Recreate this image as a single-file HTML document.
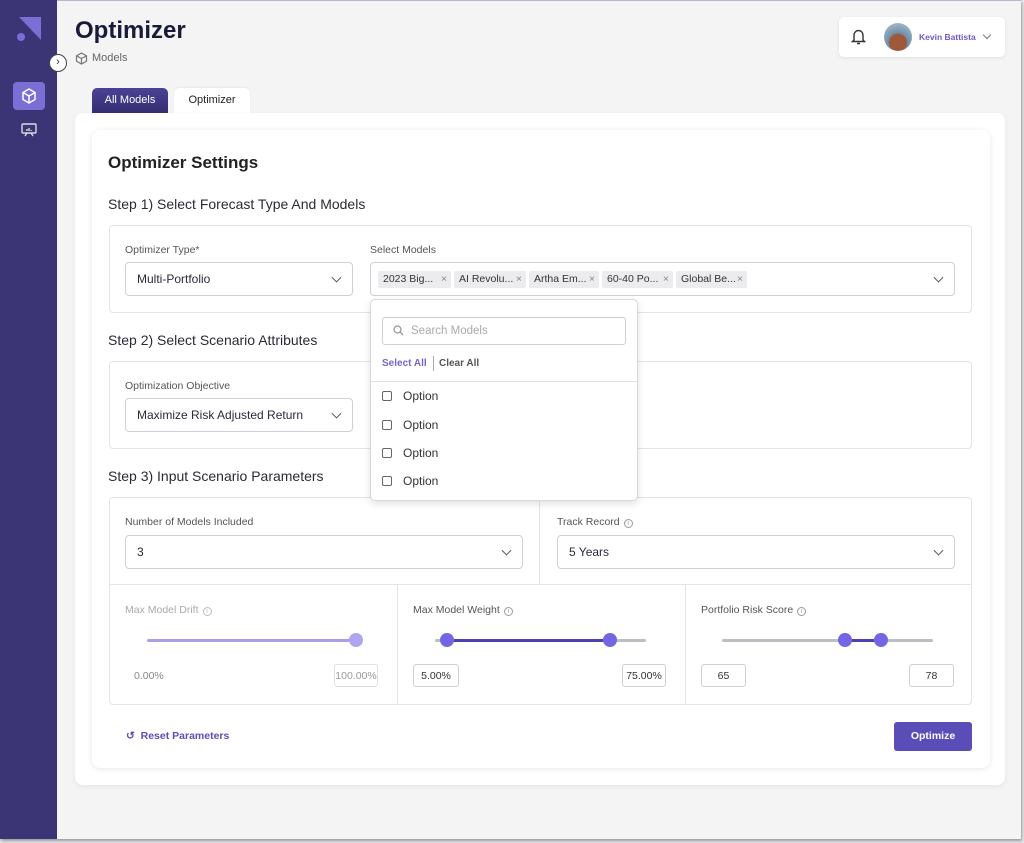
<!DOCTYPE html>
<html><head><meta charset="utf-8"><style>
*{box-sizing:border-box;margin:0;padding:0}
body{width:1024px;height:843px;background:#e9e9ec;font-family:"Liberation Sans",sans-serif;position:relative;overflow:hidden;color:#2a2a3a}
.a{position:absolute}
.frame{left:0;top:0;width:1021px;height:839px;background:#f4f4f5;border-top:1px solid #b9b4d6;box-shadow:1px 2px 3px rgba(0,0,0,.35)}
.side{left:0;top:0;width:57px;height:839px;background:#3b3576}
.card{background:#fff;border-radius:8px}
.box{border:1px solid #e4e4e8;border-radius:4px;background:#fff}
.sel{border:1px solid #cfcfd6;border-radius:4px;background:#fff;font-size:12px;color:#2a2a3a;padding-left:11px;display:flex;align-items:center}
.sel .chev{position:absolute;right:12px;top:50%;width:7px;height:7px;border-right:1.5px solid #555;border-bottom:1.5px solid #555;transform:translateY(-70%) rotate(45deg)}
.lbl{font-size:10.5px;color:#555}
.h{font-size:14px;color:#2a2a3a}
.chip{top:271px;height:17px;background:#ececef;border-radius:2px;font-size:10.5px;color:#333;padding:2px 5px;white-space:nowrap;overflow:hidden}
.chip b{font-weight:normal;color:#888;position:absolute;right:4px}
.opt{left:382px;font-size:12px;color:#333}
.opt i{display:inline-block;width:10px;height:10px;border:1px solid #666;border-radius:2px;margin-right:11px;vertical-align:-1px}
.track{height:3px;background:#bdbdc3;border-radius:2px}
.knob{width:14px;height:14px;border-radius:50%;background:#7466e3}
.inp{border:1px solid #cfcfd6;border-radius:3px;height:23px;font-size:10.5px;display:flex;align-items:center;justify-content:center;color:#333;background:#fff}
.info{display:inline-block;width:9px;height:9px;border:1px solid #999;border-radius:50%;font-size:7px;text-align:center;line-height:8px;margin-left:4px;color:#999;vertical-align:0}
</style></head><body>
<div class="a frame"></div>
<div class="a side"></div>
<svg class="a" style="left:16px;top:16px" width="26" height="26"><polygon points="3,1 25,1 25,24" fill="#7b6fd6"/><circle cx="5" cy="21" r="4" fill="#7b6fd6"/></svg>
<div class="a" style="left:13px;top:82px;width:32px;height:28px;background:#7b6fd6;border-radius:4px"></div>
<svg class="a" style="left:20px;top:87px" width="18" height="18" fill="none" stroke="#fff" stroke-width="1.5"><path d="M9 2 L15 5.5 V12.5 L9 16 L3 12.5 V5.5 Z M3 5.5 L9 9 L15 5.5 M9 9 V16"/></svg>
<svg class="a" style="left:20px;top:121px" width="18" height="18" fill="none" stroke="#ddd" stroke-width="1.4"><rect x="2" y="3" width="14" height="9" rx="1"/><path d="M5 15 L7 12 M13 15 L11 12 M7 10 V8 M9 10 V7 M11 10 V9"/></svg>
<div class="a" style="left:49px;top:54px;width:18px;height:18px;border-radius:50%;background:#fff;border:1.5px solid #444;font-size:11px;text-align:center;line-height:14px;color:#333">›</div>

<div class="a" style="left:75px;top:17px;font-size:24px;font-weight:bold;color:#1a1a3a">Optimizer</div>
<svg class="a" style="left:75px;top:52px" width="13" height="13" fill="none" stroke="#777" stroke-width="1.2"><path d="M6.5 1 L11.5 3.8 V9.2 L6.5 12 L1.5 9.2 V3.8 Z M1.5 3.8 L6.5 6.5 L11.5 3.8 M6.5 6.5 V12"/></svg>
<div class="a" style="left:92px;top:52px;font-size:11px;color:#666">Models</div>

<div class="a card" style="left:839px;top:17px;width:166px;height:40px;border-radius:5px;box-shadow:0 1px 4px rgba(0,0,0,.08)"></div>
<svg class="a" style="left:851px;top:28px" width="15" height="17" fill="none" stroke="#333" stroke-width="1.4"><path d="M3 12 V7 a4.5 4.5 0 0 1 9 0 V12 L13.5 13.5 H1.5 Z M6 15.5 H9"/></svg>
<div class="a" style="left:884px;top:23px;width:28px;height:28px;border-radius:50%;background:radial-gradient(circle at 50% 70%,#a0583a 0 35%,#6f8fa8 40%,#b7c8d6 100%)"></div>
<div class="a" style="left:919px;top:32px;font-size:8.5px;font-weight:bold;color:#6a5cc5">Kevin Battista</div>
<div class="a" style="left:984px;top:32px;width:6px;height:6px;border-right:1.3px solid #777;border-bottom:1.3px solid #777;transform:rotate(45deg)"></div>

<div class="a" style="left:92px;top:88px;width:76px;height:26px;background:linear-gradient(#4a4294,#342d70);border-radius:5px 5px 0 0;color:#fff;font-size:11px;text-align:center;line-height:25px">All Models</div>
<div class="a" style="left:174px;top:88px;width:76px;height:26px;background:#fff;border-radius:5px 5px 0 0;color:#222;font-size:11px;text-align:center;line-height:25px;box-shadow:0 -1px 2px rgba(0,0,0,.06)">Optimizer</div>

<div class="a card" style="left:75px;top:113px;width:930px;height:672px;box-shadow:0 2px 6px rgba(0,0,0,.06)"></div>
<div class="a card" style="left:92px;top:130px;width:898px;height:638px;box-shadow:0 1px 6px rgba(0,0,0,.1)"></div>

<div class="a" style="left:108px;top:153px;font-size:17px;font-weight:bold;color:#222">Optimizer Settings</div>
<div class="a h" style="left:108px;top:196px">Step 1) Select Forecast Type And Models</div>
<div class="a box" style="left:109px;top:225px;width:863px;height:88px"></div>
<div class="a lbl" style="left:125px;top:244px">Optimizer Type*</div>
<div class="a sel" style="left:125px;top:262px;width:228px;height:34px">Multi-Portfolio<span class="chev"></span></div>
<div class="a lbl" style="left:370px;top:244px">Select Models</div>
<div class="a sel" style="left:370px;top:262px;width:585px;height:34px"><span class="chev"></span></div>
<div class="a chip" style="left:378px;width:73px">2023 Big...<b>×</b></div>
<div class="a chip" style="left:454px;width:72px">AI Revolu...<b>×</b></div>
<div class="a chip" style="left:529px;width:70px">Artha Em...<b>×</b></div>
<div class="a chip" style="left:602px;width:71px">60-40 Po...<b>×</b></div>
<div class="a chip" style="left:676px;width:71px">Global Be...<b>×</b></div>

<div class="a h" style="left:108px;top:332px">Step 2) Select Scenario Attributes</div>
<div class="a box" style="left:109px;top:361px;width:863px;height:88px"></div>
<div class="a lbl" style="left:125px;top:380px">Optimization Objective</div>
<div class="a sel" style="left:125px;top:398px;width:228px;height:34px">Maximize Risk Adjusted Return<span class="chev"></span></div>

<div class="a h" style="left:108px;top:468px">Step 3) Input Scenario Parameters</div>
<div class="a box" style="left:109px;top:497px;width:863px;height:208px"></div>
<div class="a" style="left:539px;top:498px;width:1px;height:87px;background:#e4e4e8"></div>
<div class="a" style="left:110px;top:584px;width:861px;height:1px;background:#e4e4e8"></div>
<div class="a" style="left:397px;top:585px;width:1px;height:119px;background:#e4e4e8"></div>
<div class="a" style="left:685px;top:585px;width:1px;height:119px;background:#e4e4e8"></div>
<div class="a lbl" style="left:125px;top:516px">Number of Models Included</div>
<div class="a sel" style="left:125px;top:535px;width:398px;height:34px">3<span class="chev"></span></div>
<div class="a lbl" style="left:557px;top:516px">Track Record<span class="info">i</span></div>
<div class="a sel" style="left:557px;top:535px;width:398px;height:34px">5 Years<span class="chev"></span></div>

<div class="a lbl" style="left:125px;top:604px;color:#aaa">Max Model Drift<span class="info" style="border-color:#bbb;color:#bbb">i</span></div>
<div class="a track" style="left:147px;top:639px;width:210px;background:#a99fe6"></div>
<div class="a knob" style="left:349px;top:633px;background:#aea5ef"></div>
<div class="a" style="left:134px;top:670px;font-size:10.5px;color:#888">0.00%</div>
<div class="a inp" style="left:334px;top:664px;width:44px;color:#999;border-color:#e2e2e6">100.00%</div>

<div class="a lbl" style="left:413px;top:604px">Max Model Weight<span class="info">i</span></div>
<div class="a track" style="left:435px;top:639px;width:211px"></div>
<div class="a track" style="left:447px;top:639px;width:163px;background:#4d40b0"></div>
<div class="a knob" style="left:440px;top:633px"></div>
<div class="a knob" style="left:603px;top:633px"></div>
<div class="a inp" style="left:413px;top:664px;width:46px">5.00%</div>
<div class="a inp" style="left:622px;top:664px;width:44px">75.00%</div>

<div class="a lbl" style="left:701px;top:604px">Portfolio Risk Score<span class="info">i</span></div>
<div class="a track" style="left:722px;top:639px;width:211px"></div>
<div class="a track" style="left:845px;top:639px;width:36px;background:#4d40b0"></div>
<div class="a knob" style="left:838px;top:633px"></div>
<div class="a knob" style="left:874px;top:633px"></div>
<div class="a inp" style="left:701px;top:664px;width:45px">65</div>
<div class="a inp" style="left:909px;top:664px;width:45px">78</div>

<div class="a" style="left:126px;top:730px;font-size:10.5px;font-weight:bold;color:#5a4fb5">↺&nbsp;&nbsp;Reset Parameters</div>
<div class="a" style="left:894px;top:722px;width:78px;height:29px;background:#5b4db8;border-radius:3px;color:#fff;font-size:10.5px;font-weight:bold;text-align:center;line-height:29px">Optimize</div>

<div class="a" style="left:370px;top:299px;width:268px;height:202px;background:#fff;border:1px solid #d8d8de;border-radius:5px;box-shadow:0 3px 8px rgba(0,0,0,.12)"></div>
<div class="a" style="left:382px;top:317px;width:244px;height:28px;border:1px solid #cfcfd6;border-radius:3px;font-size:11.5px;color:#aaa;line-height:26px;padding-left:28px">Search Models</div>
<svg class="a" style="left:393px;top:325px" width="11" height="11" fill="none" stroke="#999" stroke-width="1.3"><circle cx="4.5" cy="4.5" r="3.5"/><path d="M7 7 L10 10"/></svg>
<div class="a" style="left:382px;top:358px;font-size:10px;font-weight:bold;color:#7466c8">Select All</div>
<div class="a" style="left:433px;top:356px;width:1px;height:15px;background:#aaa"></div>
<div class="a" style="left:439px;top:358px;font-size:10px;font-weight:bold;color:#555">Clear All</div>
<div class="a" style="left:371px;top:381px;width:266px;height:1px;background:#e2e2e6"></div>
<div class="a opt" style="top:389px"><i></i>Option</div>
<div class="a opt" style="top:418px"><i></i>Option</div>
<div class="a opt" style="top:446px"><i></i>Option</div>
<div class="a opt" style="top:474px"><i></i>Option</div>
</body></html>
